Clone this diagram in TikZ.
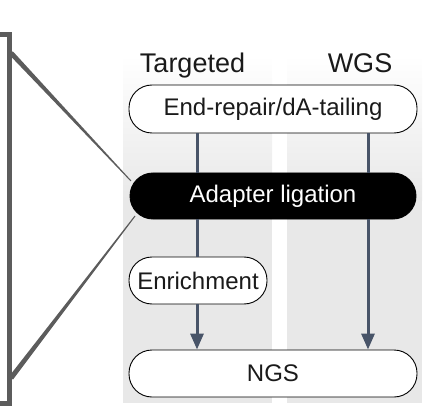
\documentclass[tikz,border=0pt]{standalone}
\usepackage{fontspec}
\setmainfont{Liberation Sans}
\usetikzlibrary{arrows.meta}
\definecolor{colbg}{HTML}{E8E8E8}
\definecolor{framegray}{HTML}{5C5C5C}
\definecolor{arrowc}{HTML}{485468}
\definecolor{txt}{HTML}{1A1A1A}
\tikzset{
  stepbox/.style={draw=black, line width=0.9pt, fill=white, rounded corners=23pt,
    inner sep=0pt, text=txt, font=\fontsize{24}{27}\selectfont},
  header/.style={anchor=base, inner sep=0pt, text=txt, font=\fontsize{27}{31}\selectfont},
  flow/.style={draw=arrowc, line width=3pt},
  flowarrow/.style={flow, -{Triangle[length=16pt,width=13pt]}},
}
\begin{document}
\begin{tikzpicture}[x=1pt,y=-1pt]
\useasboundingbox (0,0) rectangle (428,406);
% column backgrounds
\shade[top color=white, bottom color=colbg] (123,55) rectangle (272,200);
\fill[colbg] (123,199.5) rectangle (272,403);
\shade[top color=white, bottom color=colbg] (287,55) rectangle (422,200);
\fill[colbg] (287,199.5) rectangle (422,403);
% frame on the left
\draw[framegray, line width=5pt] (-10,35) -- (9,35) -- (9,403) -- (-10,403);
\fill[framegray] (9.2,54.7) -- (12.8,51.3) -- (131.4,180.7) -- (130.6,181.3) -- cycle;
\fill[framegray] (13,379.5) -- (9,376.5) -- (134.6,215.7) -- (135.4,216.3) -- cycle;
% column x positions
\coordinate (colT) at (197,0);
\coordinate (colW) at (368,0);
% headers
\node[header] (hT) at (192.5,73) {Targeted};
\node[header] (hW) at (360,73) {WGS};
% boxes
\node[stepbox, minimum width=288pt, minimum height=48pt] (er) at (273,109) {End-repair/dA-tailing};
\node[stepbox, fill=black, text=white, minimum width=286pt, minimum height=46pt] (al) at (273,196) {Adapter ligation};
\node[stepbox, minimum width=138pt, minimum height=47pt] (en) at (198,280.5) {Enrichment};
\node[stepbox, minimum width=288pt, minimum height=47pt] (ngs) at (273,373.5) {NGS};
% connectors
\draw[flow] (er.south -| colT) -- (al.north -| colT);
\draw[flow] (al.south -| colT) -- (en.north -| colT);
\draw[flowarrow] (en.south -| colT) -- (ngs.north -| colT);
\draw[flow] (er.south -| colW) -- (al.north -| colW);
\draw[flowarrow] (al.south -| colW) -- (ngs.north -| colW);
\end{tikzpicture}
\end{document}
